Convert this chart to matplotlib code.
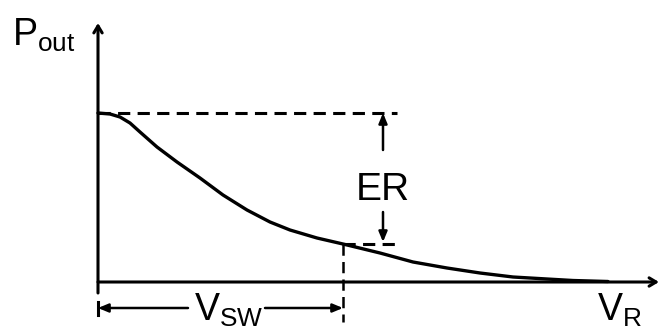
import numpy as np
import matplotlib.pyplot as plt

plt.rcParams["font.family"] = ["Liberation Sans", "DejaVu Sans"]
plt.rcParams["mathtext.fontset"] = "custom"
plt.rcParams["mathtext.rm"] = "Liberation Sans"
plt.rcParams["mathtext.it"] = "Liberation Sans"

# transfer curve: output power vs reverse bias (arbitrary units)
v_r = [0, 12, 22, 32, 42, 59, 79, 102, 125, 149, 172, 192, 219, 245,
       282, 315, 349, 382, 415, 449, 475, 510]
p_out = [169, 168, 165, 159, 150, 135, 120, 104, 87, 72, 60, 52, 44, 38,
         29, 20, 14, 9, 5, 3, 1.5, 0.5]

v_sw = 245          # switching voltage
p_max = 169         # on-state level
p_sw = 38           # level at V_SW
er_x = 285          # where the ER arrows sit
ref_end = 299       # right end of the dashed reference lines

fig = plt.figure(figsize=(6.6, 3.3), dpi=100)
ax = fig.add_axes([0, 0, 1, 1])
ax.set_xlim(-98, 562)
ax.set_ylim(-48, 282)
ax.axis("off")

LW = 2.2
dash = (4.0, 2.4)

# axes with open arrowheads
open_head = dict(arrowstyle="->,head_length=0.5,head_width=0.3", lw=LW,
                 color="black", shrinkA=0, shrinkB=0)
ax.annotate("", xy=(0, 259), xytext=(0, -11), arrowprops=open_head)
ax.annotate("", xy=(561, 0), xytext=(0, 0), arrowprops=open_head)

# curve
ax.plot(v_r, p_out, color="black", lw=2.4, solid_capstyle="round",
        solid_joinstyle="round")

# dashed reference lines
ax.plot([0, ref_end], [p_max, p_max], color="black", lw=LW, dashes=dash)
ax.plot([v_sw, ref_end], [p_sw, p_sw], color="black", lw=LW, dashes=dash)
ax.plot([v_sw, v_sw], [p_sw, -40], color="black", lw=1.8, dashes=(4.5, 2.5))

# extinction ratio arrows
filled_head = dict(arrowstyle="-|>,head_length=0.6,head_width=0.25", lw=1.8,
                   color="black", shrinkA=0, shrinkB=0)
ax.annotate("", xy=(er_x, p_max), xytext=(er_x, 132), arrowprops=filled_head)
ax.annotate("", xy=(er_x, p_sw + 2), xytext=(er_x, 70), arrowprops=filled_head)
ax.text(er_x, 92, "ER", fontsize=28, ha="center", va="center")

# switching voltage span
ax.annotate("", xy=(0, -26), xytext=(90, -26), arrowprops=filled_head)
ax.annotate("", xy=(v_sw, -26), xytext=(167, -26), arrowprops=filled_head)
ax.plot([0, 0], [-20, -33], color="black", lw=LW)
ax.text(131, -28, r"$\mathrm{V}_{\mathrm{SW}}$", fontsize=27,
        ha="center", va="center")

# axis labels
ax.text(-86, 247, r"$\mathrm{P}_{\mathrm{out}}$", fontsize=27,
        ha="left", va="center")
ax.text(499, -28, r"$\mathrm{V}_{\mathrm{R}}$", fontsize=27,
        ha="left", va="center")

fig.savefig("out.png", dpi=100)
